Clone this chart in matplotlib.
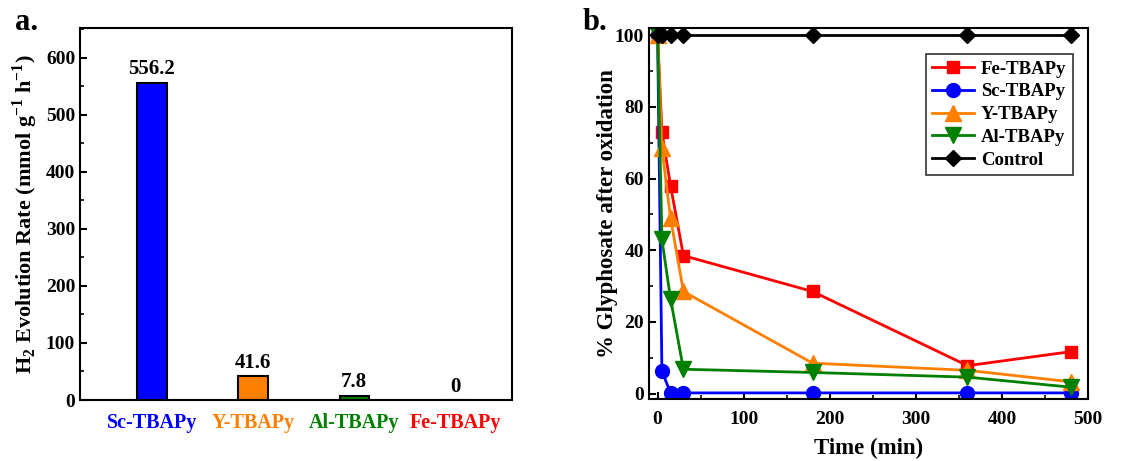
import matplotlib
matplotlib.use('Agg')
import matplotlib.pyplot as plt
from matplotlib.ticker import MultipleLocator

plt.rcParams['font.family'] = ['Liberation Serif', 'DejaVu Serif']
plt.rcParams['font.weight'] = 'bold'
plt.rcParams['mathtext.fontset'] = 'custom'
plt.rcParams['mathtext.rm'] = 'Liberation Serif:bold'

# panel a data
mofs = ['Sc-TBAPy', 'Y-TBAPy', 'Al-TBAPy', 'Fe-TBAPy']
h2_rate = [556.2, 41.6, 7.8, 0]
rate_labels = ['556.2', '41.6', '7.8', '0']
bar_colors = ['#0000FF', '#FF8000', '#008000', '#FF0000']

# panel b data
time_min = [0, 5, 15, 30, 180, 360, 480]
fe = [100, 73.0, 58.0, 38.5, 28.5, 7.8, 11.7]
sc = [100, 6.3, 0.2, 0.2, 0.2, 0.2, 0.2]
y_ = [100, 68.5, 49.0, 28.5, 8.5, 6.5, 3.3]
al = [100, 43.0, 26.5, 6.8, 5.9, 4.6, 1.8]
control = [100, 100, 100, 100, 100, 100, 100]

fig = plt.figure(figsize=(11.34, 4.61), dpi=100)
ax1 = fig.add_axes([80/1134, 1-400/461, 432/1134, 372/461])
ax2 = fig.add_axes([649/1134, 1-399/461, 439/1134, 371/461])

# ---- panel a ----
xs = range(len(mofs))
ax1.bar(xs, h2_rate, width=0.29, color=bar_colors, edgecolor='black', linewidth=1.5)
for x, v, lab in zip(xs, h2_rate, rate_labels):
    ax1.text(x, v + 6, lab, ha='center', va='bottom', fontsize=15, fontweight='bold')
ax1.set_xlim(-0.71, 3.56)
ax1.set_ylim(0, 652)
ax1.set_xticks(list(xs))
ax1.set_xticklabels(mofs, fontsize=14.5, fontweight='bold')
for t, c in zip(ax1.get_xticklabels(), bar_colors):
    t.set_color(c)
ax1.tick_params(axis='x', length=0, pad=9)
ax1.yaxis.set_major_locator(MultipleLocator(100))
ax1.yaxis.set_minor_locator(MultipleLocator(50))
ax1.tick_params(axis='y', which='major', direction='in', length=5, width=1.5, labelsize=14)
ax1.tick_params(axis='y', which='minor', direction='in', length=3, width=1.2)
ax1.set_ylabel(r'H$_2$ Evolution Rate (mmol g$^{-1}$ h$^{-1}$)', fontsize=16, fontweight='bold')
for s in ax1.spines.values():
    s.set_linewidth(1.5)
fig.text(15/1134, 1-22/461, 'a.', fontsize=22, fontweight='bold', va='center')

# ---- panel b ----
lw = 2
ms = 9
ax2.plot(time_min, fe, '-s', color='#FF0000', lw=lw, ms=ms, label='Fe-TBAPy')
ax2.plot(time_min, sc, '-o', color='#0000FF', lw=lw, ms=ms + 1, label='Sc-TBAPy')
ax2.plot(time_min, y_, '-^', color='#FF8000', lw=lw, ms=ms + 2, label='Y-TBAPy')
ax2.plot(time_min, al, '-v', color='#008000', lw=lw, ms=ms + 2, label='Al-TBAPy')
ax2.plot(time_min, control, '-D', color='black', lw=lw, ms=ms - 1, label='Control')
ax2.set_xlim(-10, 500)
ax2.set_ylim(-1.5, 102)
ax2.xaxis.set_major_locator(MultipleLocator(100))
ax2.xaxis.set_minor_locator(MultipleLocator(50))
ax2.yaxis.set_major_locator(MultipleLocator(20))
ax2.yaxis.set_minor_locator(MultipleLocator(10))
ax2.tick_params(which='major', direction='in', length=5, width=1.5, labelsize=14)
ax2.tick_params(which='minor', direction='in', length=3, width=1.2)
ax2.tick_params(axis='x', which='major', pad=9)
ax2.set_xlabel('Time (min)', fontsize=16.5, fontweight='bold', labelpad=7)
ax2.set_ylabel('% Glyphosate after oxidation', fontsize=16.5, fontweight='bold', labelpad=-2)
for s in ax2.spines.values():
    s.set_linewidth(1.5)
leg = ax2.legend(loc='upper right', bbox_to_anchor=((1073-649)/439, (399-54)/371), borderaxespad=0,
                 fontsize=13.5, frameon=True, fancybox=False, edgecolor='black', handlelength=2.2,
                 borderpad=0.35, labelspacing=0.3, handletextpad=0.4)
leg.get_frame().set_linewidth(1.2)
fig.text(583/1134, 1-22/461, 'b.', fontsize=22, fontweight='bold', va='center')

fig.savefig('out.png', dpi=100, facecolor='white')
